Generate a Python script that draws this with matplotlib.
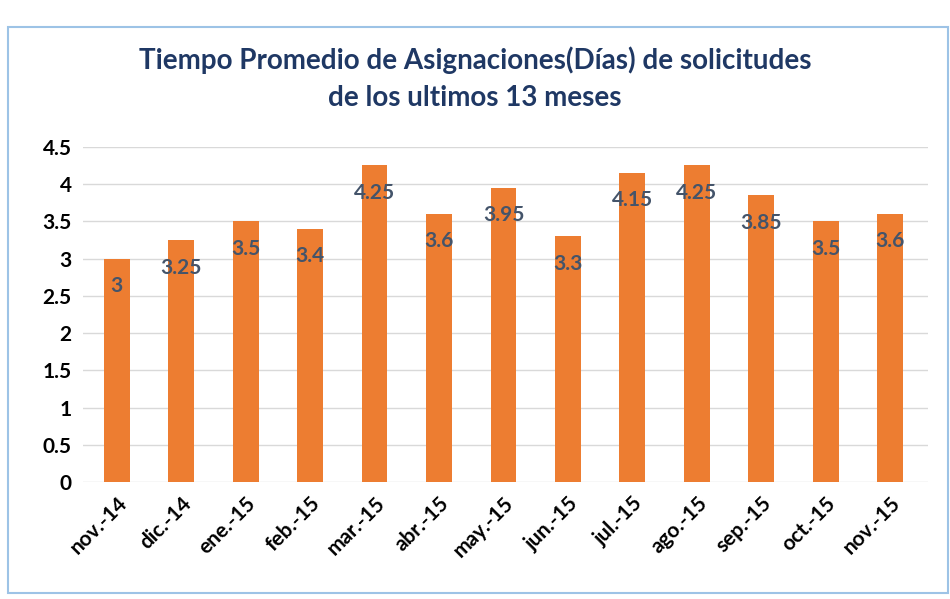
import matplotlib.pyplot as plt
from matplotlib.patches import Rectangle

meses = ["nov.-14", "dic.-14", "ene.-15", "feb.-15", "mar.-15", "abr.-15", "may.-15",
         "jun.-15", "jul.-15", "ago.-15", "sep.-15", "oct.-15", "nov.-15"]
dias = [3, 3.25, 3.5, 3.4, 4.25, 3.6, 3.95, 3.3, 4.15, 4.25, 3.85, 3.5, 3.6]
yticks = [0, 0.5, 1, 1.5, 2, 2.5, 3, 3.5, 4, 4.5]

plt.rcParams['font.family'] = ['Lato', 'DejaVu Sans']

fig = plt.figure(figsize=(9.5, 5.99), dpi=100)
ax = fig.add_axes([0.087, 0.195, 0.89, 0.56])

x = range(len(meses))
ax.bar(x, dias, width=0.4, color="#ED7D31", zorder=3)
for i, v in enumerate(dias):
    ax.text(i, v - 0.37, "%g" % v, ha="center", va="center", fontsize=15,
            fontweight="bold", color="#44546A", zorder=4)

ax.set_xlim(-0.53, len(meses) - 1 + 0.59)
ax.set_ylim(0, 4.5)
ax.set_yticks(yticks)
ax.set_yticklabels(["%g" % t for t in yticks], fontsize=15, fontweight="bold")
ax.set_xticks(list(x))
ax.set_xticklabels(meses, rotation=45, ha="right", rotation_mode="anchor",
                   fontsize=15, fontweight="bold")
ax.tick_params(length=0, pad=8)
ax.grid(axis="y", color="#D9D9D9", linewidth=1, zorder=0)
for s in ax.spines.values():
    s.set_visible(False)

fig.text(0.5, 0.90, "Tiempo Promedio de Asignaciones(Días) de solicitudes",
         ha="center", va="center", fontsize=20, fontweight="bold", color="#1F3864")
fig.text(0.5, 0.836, "de los ultimos 13 meses",
         ha="center", va="center", fontsize=20, fontweight="bold", color="#1F3864")

fig.patches.append(Rectangle((8 / 950, 6 / 599), 940 / 950, 566 / 599,
                             transform=fig.transFigure, fill=False,
                             edgecolor="#9DC3E6", linewidth=1.5))

fig.savefig("out.png", dpi=100)
